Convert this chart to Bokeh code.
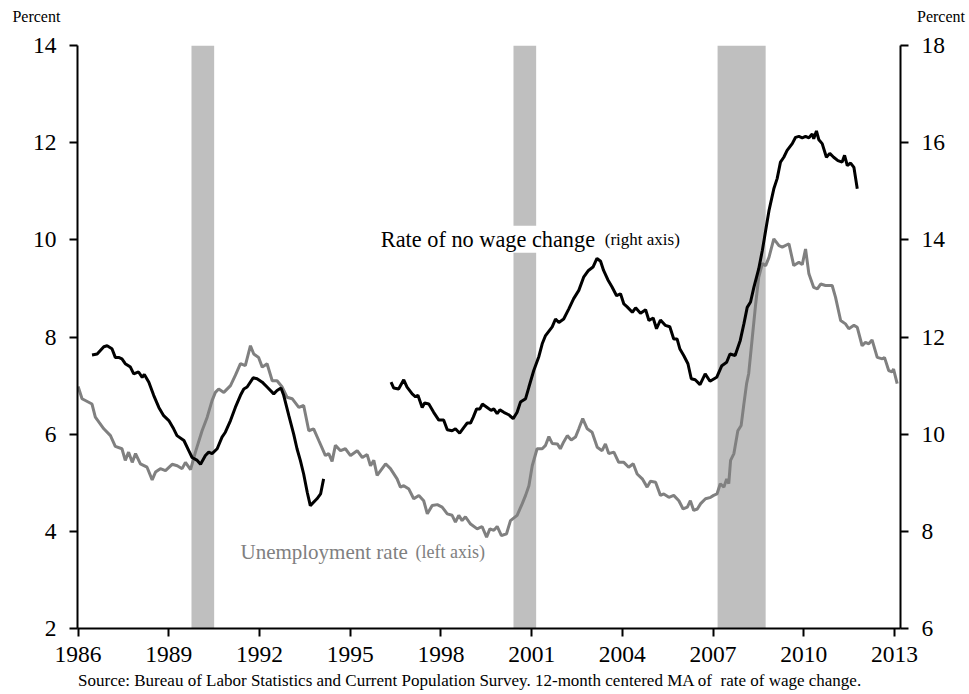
from bokeh.plotting import figure
from bokeh.models import Range1d, LinearAxis, FixedTicker, Label, NumeralTickFormatter
from bokeh.embed import file_html
from bokeh.resources import INLINE

# ---------------- data (x in chart-label years) ----------------
unemp_years = [
    1986.00, 1986.13, 1986.46, 1986.57, 1986.85, 1987.07, 1987.23, 1987.45, 1987.56, 1987.67,
    1987.79, 1987.90, 1988.06, 1988.28, 1988.45, 1988.56, 1988.72, 1988.89, 1989.11, 1989.28,
    1989.44, 1989.55, 1989.72, 1989.88, 1990.10, 1990.27, 1990.43, 1990.54, 1990.65, 1990.82,
    1991.04, 1991.20, 1991.37, 1991.53, 1991.70, 1991.81, 1991.97, 1992.09, 1992.25, 1992.42,
    1992.58, 1992.75, 1992.91, 1993.08, 1993.30, 1993.46, 1993.63, 1993.79, 1993.96, 1994.18,
    1994.29, 1994.40, 1994.51, 1994.68, 1994.84, 1995.01, 1995.23, 1995.40, 1995.56, 1995.67,
    1995.78, 1995.89, 1996.17, 1996.33, 1996.55, 1996.66, 1996.77, 1996.94, 1997.10, 1997.27,
    1997.43, 1997.55, 1997.71, 1997.88, 1998.04, 1998.21, 1998.37, 1998.48, 1998.59, 1998.70,
    1998.81, 1998.98, 1999.20, 1999.36, 1999.51, 1999.62, 1999.75, 1999.86, 2000.00, 2000.17,
    2000.30, 2000.52, 2000.69, 2000.80, 2000.91, 2001.02, 2001.18, 2001.35, 2001.46, 2001.57,
    2001.68, 2001.85, 2001.95, 2002.06, 2002.18, 2002.31, 2002.45, 2002.56, 2002.69, 2002.84,
    2003.00, 2003.17, 2003.33, 2003.44, 2003.55, 2003.72, 2003.88, 2004.05, 2004.21, 2004.36,
    2004.49, 2004.66, 2004.82, 2004.93, 2005.10, 2005.26, 2005.37, 2005.54, 2005.70, 2005.87,
    2006.01, 2006.15, 2006.25, 2006.36, 2006.48, 2006.59, 2006.75, 2006.92, 2007.02, 2007.13,
    2007.24, 2007.36, 2007.45, 2007.52, 2007.58, 2007.69, 2007.82, 2007.93, 2008.02, 2008.11,
    2008.18, 2008.30, 2008.41, 2008.51, 2008.63, 2008.74, 2008.85, 2009.01, 2009.18, 2009.29,
    2009.51, 2009.67, 2009.84, 2009.95, 2010.06, 2010.17, 2010.33, 2010.45, 2010.56, 2010.72,
    2010.94, 2011.05, 2011.22, 2011.38, 2011.49, 2011.66, 2011.77, 2011.93, 2012.04, 2012.15,
    2012.26, 2012.43, 2012.60, 2012.67, 2012.81, 2012.92, 2012.97, 2013.09,
]
unemp_rate = [
    6.98, 6.73, 6.62, 6.35, 6.11, 5.97, 5.75, 5.70, 5.46, 5.63,
    5.42, 5.60, 5.39, 5.32, 5.06, 5.22, 5.29, 5.25, 5.38, 5.35,
    5.29, 5.42, 5.27, 5.63, 6.07, 6.35, 6.69, 6.86, 6.93, 6.86,
    7.00, 7.21, 7.45, 7.41, 7.82, 7.65, 7.58, 7.38, 7.45, 7.10,
    7.10, 6.97, 6.76, 6.73, 6.55, 6.59, 6.07, 6.11, 5.87, 5.56,
    5.60, 5.44, 5.77, 5.66, 5.70, 5.56, 5.66, 5.52, 5.58, 5.35,
    5.46, 5.15, 5.39, 5.29, 5.08, 4.91, 4.94, 4.87, 4.67, 4.74,
    4.63, 4.36, 4.53, 4.55, 4.50, 4.36, 4.33, 4.19, 4.33, 4.22,
    4.30, 4.15, 4.05, 4.10, 3.88, 4.05, 4.02, 4.10, 3.91, 3.95,
    4.22, 4.33, 4.57, 4.74, 4.94, 5.35, 5.70, 5.70, 5.77, 5.95,
    5.81, 5.80, 5.70, 5.84, 5.97, 5.88, 5.94, 6.11, 6.32, 6.11,
    6.04, 5.73, 5.66, 5.80, 5.60, 5.63, 5.42, 5.42, 5.32, 5.39,
    5.18, 5.08, 4.91, 5.03, 5.01, 4.74, 4.77, 4.70, 4.74, 4.63,
    4.46, 4.50, 4.63, 4.43, 4.46, 4.57, 4.67, 4.70, 4.74, 4.77,
    4.98, 4.91, 5.08, 4.98, 5.46, 5.60, 6.07, 6.18, 6.62, 7.04,
    7.25, 8.00, 8.68, 9.23, 9.51, 9.47, 9.64, 10.02, 9.88, 9.85,
    9.92, 9.47, 9.54, 9.49, 9.81, 9.30, 9.02, 8.99, 9.09, 9.06,
    9.06, 8.82, 8.34, 8.27, 8.17, 8.24, 8.20, 7.82, 7.89, 7.86,
    7.94, 7.58, 7.55, 7.58, 7.31, 7.28, 7.34, 7.04,
]

wage_years_1 = [
    1986.46, 1986.63, 1986.85, 1986.96, 1987.12, 1987.23, 1987.34, 1987.45, 1987.56, 1987.73,
    1987.84, 1988.00, 1988.12, 1988.19, 1988.34, 1988.50, 1988.67, 1988.83, 1989.00, 1989.16,
    1989.27, 1989.50, 1989.66, 1989.77, 1989.94, 1990.05, 1990.21, 1990.32, 1990.43, 1990.60,
    1990.76, 1990.87, 1991.04, 1991.20, 1991.37, 1991.48, 1991.59, 1991.79, 1991.92, 1992.09,
    1992.25, 1992.47, 1992.58, 1992.71, 1992.80, 1992.97, 1993.13, 1993.24, 1993.35, 1993.46,
    1993.58, 1993.68, 1993.90, 1994.02, 1994.12,
]
wage_rate_1 = [
    11.63, 11.65, 11.80, 11.82, 11.76, 11.58, 11.58, 11.55, 11.45, 11.38,
    11.24, 11.28, 11.17, 11.23, 11.07, 10.80, 10.55, 10.38, 10.28, 10.11,
    9.97, 9.87, 9.66, 9.52, 9.46, 9.38, 9.56, 9.63, 9.60, 9.70,
    9.94, 10.04, 10.28, 10.55, 10.80, 10.93, 10.97, 11.16, 11.14, 11.07,
    10.97, 10.83, 10.90, 10.95, 10.80, 10.38, 10.00, 9.70, 9.46, 9.18,
    8.80, 8.53, 8.67, 8.77, 9.08,
]

wage_years_2 = [
    1996.35, 1996.44, 1996.60, 1996.77, 1996.88, 1997.05, 1997.16, 1997.24, 1997.38, 1997.46,
    1997.60, 1997.76, 1997.93, 1998.09, 1998.21, 1998.37, 1998.48, 1998.62, 1998.76, 1998.87,
    1998.98, 1999.07, 1999.18, 1999.29, 1999.37, 1999.53, 1999.66, 1999.75, 1999.86, 1999.95,
    2000.08, 2000.24, 2000.39, 2000.52, 2000.63, 2000.80, 2000.91, 2001.07, 2001.24, 2001.35,
    2001.46, 2001.68, 2001.79, 2001.90, 2002.06, 2002.23, 2002.39, 2002.56, 2002.72, 2002.88,
    2003.03, 2003.16, 2003.28, 2003.38, 2003.52, 2003.66, 2003.81, 2003.94, 2004.05, 2004.16,
    2004.33, 2004.44, 2004.60, 2004.77, 2004.88, 2005.02, 2005.13, 2005.26, 2005.42, 2005.57,
    2005.70, 2005.81, 2005.90, 2006.03, 2006.17, 2006.28, 2006.41, 2006.57, 2006.74, 2006.90,
    2007.12, 2007.29, 2007.45, 2007.56, 2007.73, 2007.90, 2008.02, 2008.13, 2008.24, 2008.35,
    2008.51, 2008.63, 2008.74, 2008.85, 2009.01, 2009.12, 2009.23, 2009.34, 2009.45, 2009.62,
    2009.73, 2009.84, 2009.95, 2010.06, 2010.17, 2010.28, 2010.33, 2010.42, 2010.50, 2010.61,
    2010.75, 2010.86, 2010.99, 2011.13, 2011.27, 2011.35, 2011.44, 2011.55, 2011.66, 2011.77,
]
wage_rate_2 = [
    11.07, 10.95, 10.93, 11.12, 10.97, 10.83, 10.77, 10.80, 10.55, 10.64,
    10.62, 10.45, 10.29, 10.29, 10.09, 10.07, 10.11, 10.02, 10.14, 10.23,
    10.23, 10.35, 10.52, 10.52, 10.62, 10.55, 10.49, 10.52, 10.42, 10.50,
    10.45, 10.40, 10.32, 10.45, 10.66, 10.73, 10.97, 11.31, 11.60, 11.86,
    12.03, 12.21, 12.37, 12.30, 12.37, 12.58, 12.79, 12.96, 13.23, 13.37,
    13.44, 13.62, 13.56, 13.37, 13.18, 13.03, 12.85, 12.89, 12.68, 12.62,
    12.51, 12.60, 12.49, 12.56, 12.34, 12.39, 12.17, 12.35, 12.24, 12.21,
    11.96, 11.96, 11.76, 11.62, 11.45, 11.14, 11.12, 11.02, 11.24, 11.09,
    11.17, 11.41, 11.48, 11.65, 11.62, 11.93, 12.27, 12.61, 12.72, 13.02,
    13.40, 13.78, 14.19, 14.60, 15.05, 15.26, 15.60, 15.70, 15.84, 15.98,
    16.11, 16.13, 16.10, 16.13, 16.10, 16.18, 16.08, 16.24, 16.06, 15.98,
    15.70, 15.78, 15.70, 15.63, 15.60, 15.74, 15.53, 15.58, 15.49, 15.05,
]

recession_start = [1989.75, 2000.40, 2007.15]
recession_end = [1990.50, 2001.15, 2008.74]

x_ticks = [1986, 1989, 1992, 1995, 1998, 2001, 2004, 2007, 2010, 2013]
left_ticks = [2, 4, 6, 8, 10, 12, 14]
right_ticks = [6, 8, 10, 12, 14, 16, 18]

FONT = "Liberation Serif"
GRAY = "#808080"
SHADE = "#BFBFBF"

p = figure(width=969, height=694,
           x_range=Range1d(1985.98, 2013.2), y_range=Range1d(2, 14),
           output_backend="svg", toolbar_location=None,
           min_border_left=77, min_border_right=69,
           min_border_top=45, min_border_bottom=66)
p.extra_y_ranges = {"right": Range1d(6, 18)}
p.outline_line_color = None
p.grid.visible = False
p.background_fill_color = "white"
p.border_fill_color = "white"

right_axis = LinearAxis(y_range_name="right")
p.add_layout(right_axis, "right")

p.xaxis.ticker = FixedTicker(ticks=x_ticks)
p.yaxis[0].ticker = FixedTicker(ticks=left_ticks)
right_axis.ticker = FixedTicker(ticks=right_ticks)

for ax in [p.xaxis[0], p.yaxis[0], right_axis]:
    ax.formatter = NumeralTickFormatter(format="0")
    ax.axis_line_width = 2
    ax.axis_line_color = "black"
    ax.major_tick_line_width = 2
    ax.major_tick_line_color = "black"
    ax.major_tick_in = 0
    ax.major_tick_out = 8
    ax.minor_tick_line_color = None
    ax.major_label_text_font = FONT
    ax.major_label_text_font_size = "23.5px"
    ax.major_label_text_color = "black"
p.xaxis[0].major_label_standoff = 10
p.yaxis[0].major_label_standoff = 13
right_axis.major_label_standoff = 13

# recession shading
p.quad(left=recession_start, right=recession_end, bottom=2, top=14,
       fill_color=SHADE, line_color=None)

# series
p.line(unemp_years, unemp_rate, line_color=GRAY, line_width=3)
p.line(wage_years_1, wage_rate_1, line_color="black", line_width=3, y_range_name="right")
p.line(wage_years_2, wage_rate_2, line_color="black", line_width=3, y_range_name="right")

# annotations inside the frame
p.add_layout(Label(x=1995.98, y=10.01, text="Rate of no wage change",
                   text_font=FONT, text_font_size="22.3px", text_color="black",
                   text_baseline="alphabetic", background_fill_color="white", padding=1))
p.add_layout(Label(x=2003.42, y=10.01, text="(right axis)",
                   text_font=FONT, text_font_size="17px", text_color="black",
                   text_baseline="alphabetic"))
p.add_layout(Label(x=1991.37, y=3.58, text="Unemployment rate",
                   text_font=FONT, text_font_size="21px", text_color=GRAY,
                   text_baseline="alphabetic"))
p.add_layout(Label(x=1997.16, y=3.58, text="(left axis)",
                   text_font=FONT, text_font_size="18px", text_color=GRAY,
                   text_baseline="alphabetic"))

# annotations outside the frame (placed in side panels)
p.add_layout(Label(x=1984.62, y=14.6, text="Percent", text_font=FONT,
                   text_font_size="16px", text_color="black",
                   text_align="center", text_baseline="middle"), "above")
p.add_layout(Label(x=2014.54, y=14.6, text="Percent", text_font=FONT,
                   text_font_size="16px", text_color="black",
                   text_align="center", text_baseline="middle"), "above")
p.add_layout(Label(x=1986.0, y=0.92,
                   text="Source: Bureau of Labor Statistics and Current Population Survey. 12-month centered MA of \u00a0rate of wage change.",
                   text_font=FONT, text_font_size="17px", text_color="black",
                   text_baseline="alphabetic"), "below")

open("out.html", "w").write(file_html(p, INLINE))
